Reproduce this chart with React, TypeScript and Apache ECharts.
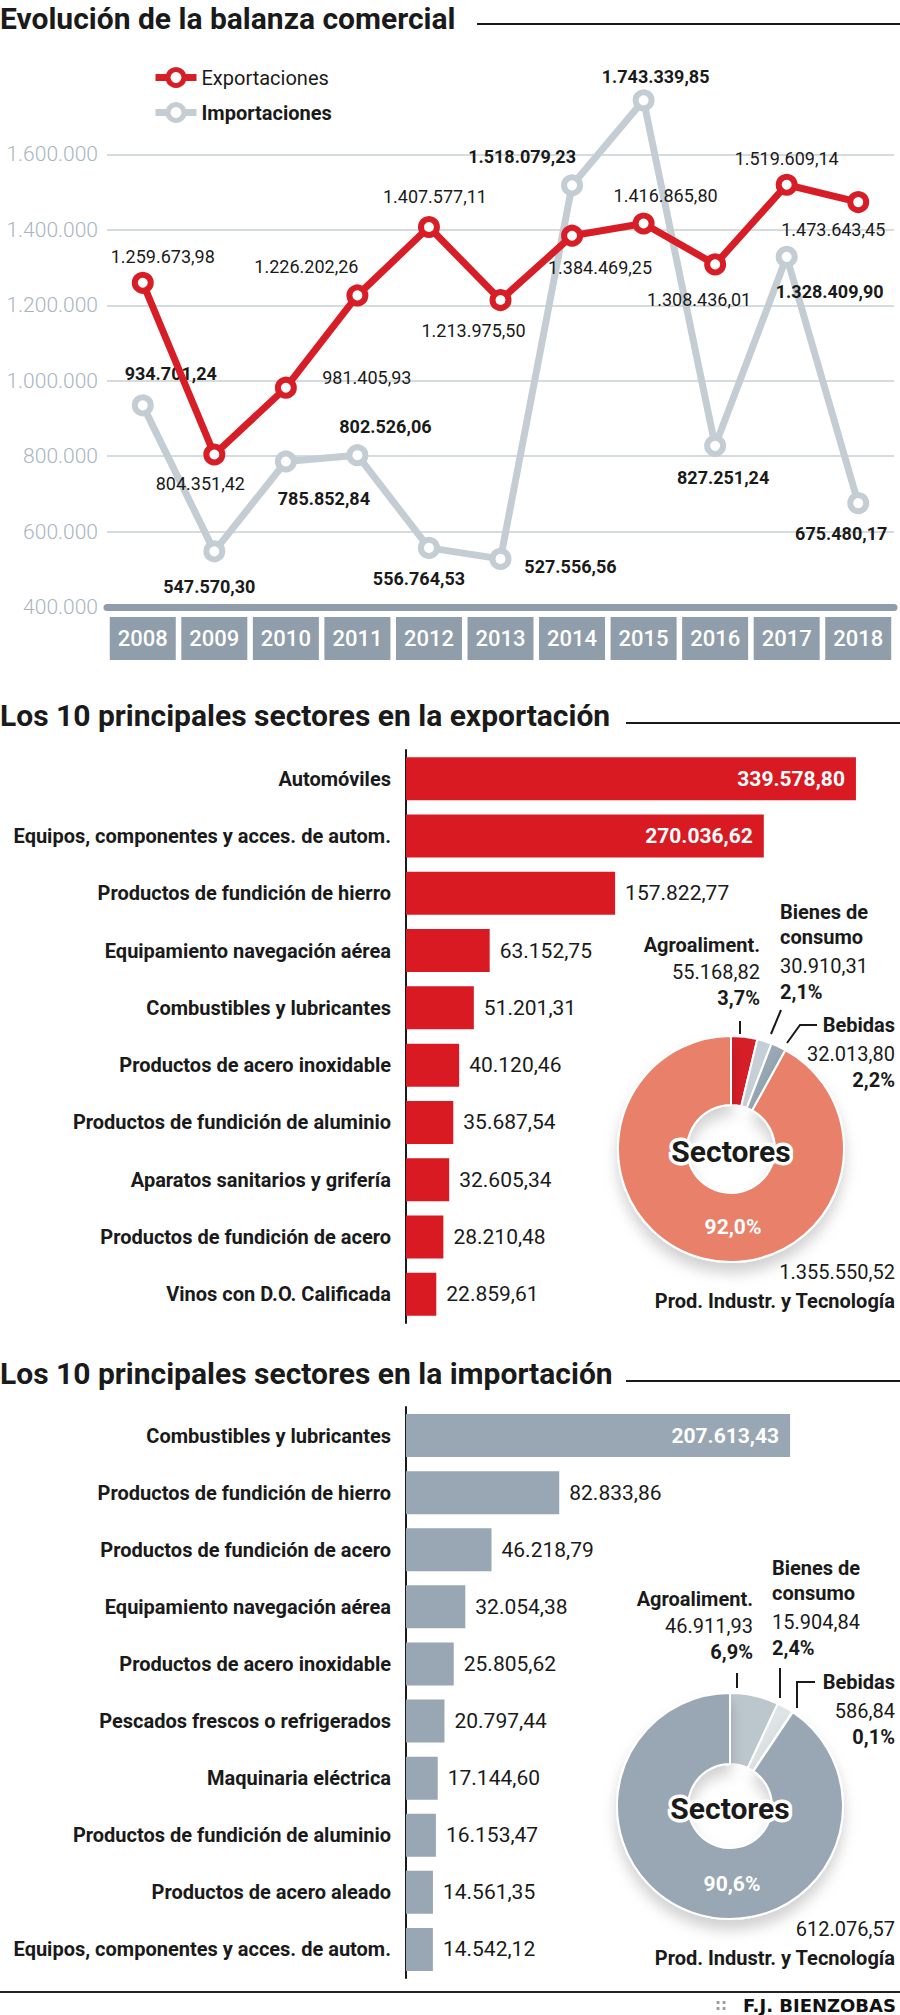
import React, { useEffect, useRef } from 'react';
import * as echarts from 'echarts';

// ---------- data ----------
const years = ['2008', '2009', '2010', '2011', '2012', '2013', '2014', '2015', '2016', '2017', '2018'];
const exportsData = [1259673.98, 804351.42, 981405.93, 1226202.26, 1407577.11, 1213975.5, 1384469.25, 1416865.8, 1308436.01, 1519609.14, 1473643.45];
const importsData = [934701.24, 547570.3, 785852.84, 802526.06, 556764.53, 527556.56, 1518079.23, 1743339.85, 827251.24, 1328409.9, 675480.17];

const exportLabelOffsets = [[20, -26], [-14, 29], [81, -10], [-51, -29], [6, -30], [-27, 30], [28, 32], [22, -28], [-16, 35], [0, -26], [-25, 27]];
const importLabelOffsets = [[28, -32], [-5, 35], [38, 37], [28, -29], [-10, 31], [70, 8], [-50, -29], [12, -24], [8, 32], [43, 35], [-17, 30]];

const exportSectors = ['Automóviles', 'Equipos, componentes y acces. de autom.', 'Productos de fundición de hierro', 'Equipamiento navegación aérea', 'Combustibles y lubricantes', 'Productos de acero inoxidable', 'Productos de fundición de aluminio', 'Aparatos sanitarios y grifería', 'Productos de fundición de acero', 'Vinos con D.O. Calificada'];
const exportSectorValues = [339578.8, 270036.62, 157822.77, 63152.75, 51201.31, 40120.46, 35687.54, 32605.34, 28210.48, 22859.61];

const importSectors = ['Combustibles y lubricantes', 'Productos de fundición de hierro', 'Productos de fundición de acero', 'Equipamiento navegación aérea', 'Productos de acero inoxidable', 'Pescados frescos o refrigerados', 'Maquinaria eléctrica', 'Productos de fundición de aluminio', 'Productos de acero aleado', 'Equipos, componentes y acces. de autom.'];
const importSectorValues = [207613.43, 82833.86, 46218.79, 32054.38, 25805.62, 20797.44, 17144.6, 16153.47, 14561.35, 14542.12];

const pieNames = ['Agroaliment.', 'Bienes de consumo', 'Bebidas', 'Prod. Industr. y Tecnología'];
const exportPieValues = [55168.82, 30910.31, 32013.8, 1355550.52];
const importPieValues = [46911.93, 15904.84, 586.84, 612076.57];

// ---------- styles ----------
const FN = "Roboto, 'Noto Sans', sans-serif";
const RED = '#d71e27';
const GRAYLINE = '#c4cdd3';
const AXISGRAY = '#8f9eaa';
const DARK = '#1a1a1a';
const exportPieColors = [RED, '#c6cfd5', '#98a8b4', '#e8806a'];
const importPieColors = ['#bcc6cd', '#dfe4e7', '#3d4750', '#98a7b3'];

function fmt(v: number, dec = 2): string {
  const [i, d] = v.toFixed(dec).split('.');
  const ii = i.replace(/\B(?=(\d{3})+(?!\d))/g, '.');
  return d ? ii + ',' + d : ii;
}
function pct(v: number, arr: number[]): string {
  const s = arr.reduce((a, b) => a + b, 0);
  return (v / s * 100).toFixed(1).replace('.', ',') + '%';
}

function txt(text: string, x: number, y: number, o: any = {}) {
  return {
    type: 'text', x, y, silent: true,
    style: {
      text, fill: o.fill || DARK, fontSize: o.size || 20, fontWeight: o.bold ? 'bold' : 'normal',
      fontFamily: o.font || FN, align: o.align || 'left', verticalAlign: 'middle',
      stroke: o.stroke, lineWidth: o.lw, strokeFirst: true,
    },
    z: 100,
  };
}
function ln(x1: number, y1: number, x2: number, y2: number, w = 2, c = DARK) {
  return { type: 'line', silent: true, shape: { x1, y1, x2, y2 }, style: { stroke: c, lineWidth: w }, z: 100 };
}
function pl(points: number[][], w = 2, c = DARK) {
  return { type: 'polyline', silent: true, shape: { points }, style: { stroke: c, lineWidth: w, fill: null }, z: 100 };
}

function pieAnnotations(vals: number[], cy: number, cfg: any) {
  const g: any[] = [];
  g.push(txt(pieNames[0], cfg.agroX, cfg.agroY, { bold: true, align: 'right' }));
  g.push(txt(fmt(vals[0]), cfg.agroX, cfg.agroY + 27, { align: 'right' }));
  g.push(txt(pct(vals[0], vals), cfg.agroX, cfg.agroY + 53, { bold: true, align: 'right' }));
  g.push(txt('Bienes de', cfg.bienX, cfg.bienY, { bold: true }));
  g.push(txt('consumo', cfg.bienX, cfg.bienY + 25, { bold: true }));
  g.push(txt(fmt(vals[1]), cfg.bienX, cfg.bienY + 54, {}));
  g.push(txt(pct(vals[1], vals), cfg.bienX, cfg.bienY + 80, { bold: true }));
  g.push(txt(pieNames[2], 895, cfg.bebY, { bold: true, align: 'right' }));
  g.push(txt(fmt(vals[2]), 895, cfg.bebY + 29, { align: 'right' }));
  g.push(txt(pct(vals[2], vals), 895, cfg.bebY + 55, { bold: true, align: 'right' }));
  g.push(txt('Sectores', cfg.cx, cy + 2, { bold: true, size: 30, align: 'center', stroke: '#fff', lw: 7 }));
  g.push(txt(pct(vals[3], vals), cfg.cx + 2, cy + 78, { bold: true, size: 21, align: 'center', fill: '#fff' }));
  g.push(txt(fmt(vals[3]), 895, cy + 123, { align: 'right' }));
  g.push(txt(pieNames[3], 895, cy + 152, { bold: true, align: 'right' }));
  for (const l of cfg.leaders) g.push(pl(l, 2));
  return g;
}

export default function App() {
  const ref = useRef<HTMLDivElement>(null);
  useEffect(() => {
    if (!ref.current) return;
    const chart = echarts.init(ref.current, null, { renderer: 'svg' });

    const lineLabel = { show: true, position: 'inside', fontSize: 18, color: DARK, fontFamily: FN, formatter: (p: any) => fmt(p.value) };

    const barLabelOut = { show: true, position: 'right', distance: 10, fontSize: 21, color: DARK, fontFamily: FN, formatter: (p: any) => fmt(p.value) };
    const barLabelIn = { show: true, position: 'insideRight', distance: 11, fontSize: 21, color: '#fff', fontWeight: 'bold', fontFamily: FN, formatter: (p: any) => fmt(p.value) };

    const catAxis = (gridIndex: number, data: string[]) => ({
      type: 'category', gridIndex, data, inverse: true, offset: 8,
      axisLine: { show: true, lineStyle: { color: DARK, width: 2 } },
      axisTick: { show: false },
      axisLabel: { interval: 0, fontSize: 20, fontWeight: 'bold', color: DARK, fontFamily: FN, margin: 7 },
    });
    const valAxis = (gridIndex: number, max: number) => ({
      type: 'value', gridIndex, min: 0, max, show: false, splitLine: { show: false },
    });

    const graphic: any[] = [
      txt('Evolución de la balanza comercial', 0, 18, { bold: true, size: 30 }),
      ln(477, 24, 900, 24, 2),
      txt('Los 10 principales sectores en la exportación', 0, 715, { bold: true, size: 30 }),
      ln(626, 723, 900, 723, 2),
      txt('Los 10 principales sectores en la importación', 0, 1373, { bold: true, size: 30 }),
      ln(626, 1381, 900, 1381, 2),
      ln(0, 1992, 900, 1992, 2, '#222'),
      txt('::', 727, 2005, { size: 15, bold: true, fill: '#9a9a9a', align: 'right', font: "'DejaVu Sans', sans-serif" }),
      txt('F.J. BIENZOBAS', 896, 2005, { size: 18, bold: true, fill: '#111', align: 'right', font: "'DejaVu Sans', sans-serif" }),
      ...pieAnnotations(exportPieValues, 1149, {
        cx: 731, agroX: 760, agroY: 945, bienX: 780, bienY: 912, bebY: 1025,
        leaders: [[[740, 1021], [740, 1034]], [[781, 1010], [771, 1034]], [[817, 1025], [800, 1025], [787, 1043]]],
      }),
      ...pieAnnotations(importPieValues, 1806, {
        cx: 730, agroX: 753, agroY: 1599, bienX: 772, bienY: 1568, bebY: 1682,
        leaders: [[[737, 1673], [737, 1688]], [[780, 1668], [780, 1698]], [[815, 1682], [797, 1682], [797, 1708]]],
      }),
    ];

    const option: any = {
      animation: false,
      backgroundColor: '#fff',
      textStyle: { fontFamily: FN },
      legend: {
        left: 147, top: 62, orient: 'vertical', itemWidth: 41, itemHeight: 20, itemGap: 14,
        selectedMode: false,
        textStyle: { fontSize: 20, color: DARK, fontFamily: FN },
        lineStyle: { width: 7 },
        itemStyle: { borderWidth: 5 },
        data: [
          { name: 'Exportaciones', textStyle: { fontWeight: 'normal' } },
          { name: 'Importaciones', textStyle: { fontWeight: 'bold' } },
        ],
      },
      grid: [
        { left: 107, right: 6, top: 79, bottom: 1408, outerBoundsMode: 'none', containLabel: false },
        { left: 406, right: 17, top: 750, bottom: 692, outerBoundsMode: 'none', containLabel: false },
        { left: 406, right: 13, top: 1407, bottom: 37, outerBoundsMode: 'none', containLabel: false },
      ],
      xAxis: [
        {
          type: 'category', gridIndex: 0, data: years, boundaryGap: true,
          axisLine: { show: true, lineStyle: { color: AXISGRAY, width: 7 } },
          axisTick: { show: false },
          axisLabel: {
            interval: 0, margin: 10, color: '#fff', fontSize: 22, fontWeight: 500, fontFamily: FN, backgroundColor: AXISGRAY,
            width: 66, height: 43, lineHeight: 43, align: 'center', verticalAlign: 'top',
          },
        },
        valAxis(1, 360000),
        valAxis(2, 260000),
      ],
      yAxis: [
        {
          type: 'value', gridIndex: 0, min: 400000, max: 1800000, interval: 200000,
          axisLine: { show: false }, axisTick: { show: false },
          axisLabel: { fontSize: 21, fontWeight: 300, color: '#a7b5bf', fontFamily: FN, margin: 9, formatter: (v: number) => (v >= 1800000 ? '' : fmt(v, 0)) },
          splitLine: { show: true, showMaxLine: false, showMinLine: false, lineStyle: { color: '#d6dbde', width: 2 } },
        },
        catAxis(1, exportSectors),
        catAxis(2, importSectors),
      ],
      series: [
        {
          name: 'Importaciones', type: 'line', xAxisIndex: 0, yAxisIndex: 0, z: 2,
          data: importsData.map((v, i) => ({ value: v, label: { offset: importLabelOffsets[i] } })),
          lineStyle: { color: GRAYLINE, width: 7 },
          symbol: 'circle', symbolSize: 16,
          itemStyle: { color: '#fff', borderColor: GRAYLINE, borderWidth: 6 },
          label: { ...lineLabel, fontWeight: 'bold' },
        },
        {
          name: 'Exportaciones', type: 'line', xAxisIndex: 0, yAxisIndex: 0, z: 3,
          data: exportsData.map((v, i) => ({ value: v, label: { offset: exportLabelOffsets[i] } })),
          lineStyle: { color: RED, width: 7 },
          symbol: 'circle', symbolSize: 16,
          itemStyle: { color: '#fff', borderColor: RED, borderWidth: 6 },
          label: { ...lineLabel, fontWeight: 'normal' },
        },
        {
          type: 'bar', xAxisIndex: 1, yAxisIndex: 1, barWidth: 43,
          itemStyle: { color: '#d91a22' },
          data: exportSectorValues.map((v, i) => ({ value: v, label: i < 2 ? barLabelIn : barLabelOut })),
        },
        {
          type: 'bar', xAxisIndex: 2, yAxisIndex: 2, barWidth: 43,
          itemStyle: { color: '#98a7b3' },
          data: importSectorValues.map((v, i) => ({ value: v, label: i < 1 ? barLabelIn : barLabelOut })),
        },
        {
          type: 'pie', center: [731, 1149], radius: [44, 113], startAngle: 90, clockwise: true,
          label: { show: false }, labelLine: { show: false }, silent: true,
          itemStyle: { borderColor: '#fff', borderWidth: 2 },
          data: exportPieValues.map((v, i) => ({
            name: pieNames[i], value: v,
            itemStyle: { color: exportPieColors[i], ...(i === 3 ? { shadowBlur: 14, shadowOffsetY: 10, shadowColor: 'rgba(0,0,0,0.18)' } : {}) },
          })),
        },
        {
          type: 'pie', center: [730, 1806], radius: [42, 113], startAngle: 90, clockwise: true,
          label: { show: false }, labelLine: { show: false }, silent: true,
          itemStyle: { borderColor: '#fff', borderWidth: 2 },
          data: importPieValues.map((v, i) => ({
            name: pieNames[i], value: v,
            itemStyle: { color: importPieColors[i], ...(i === 3 ? { shadowBlur: 14, shadowOffsetY: 10, shadowColor: 'rgba(0,0,0,0.18)' } : {}) },
          })),
        },
      ],
      graphic,
    };
    chart.setOption(option);
    return () => chart.dispose();
  }, []);
  return <div ref={ref} style={{ position: 'absolute', left: 0, top: 0, width: 900, height: 2015, background: '#fff' }} />;
}
